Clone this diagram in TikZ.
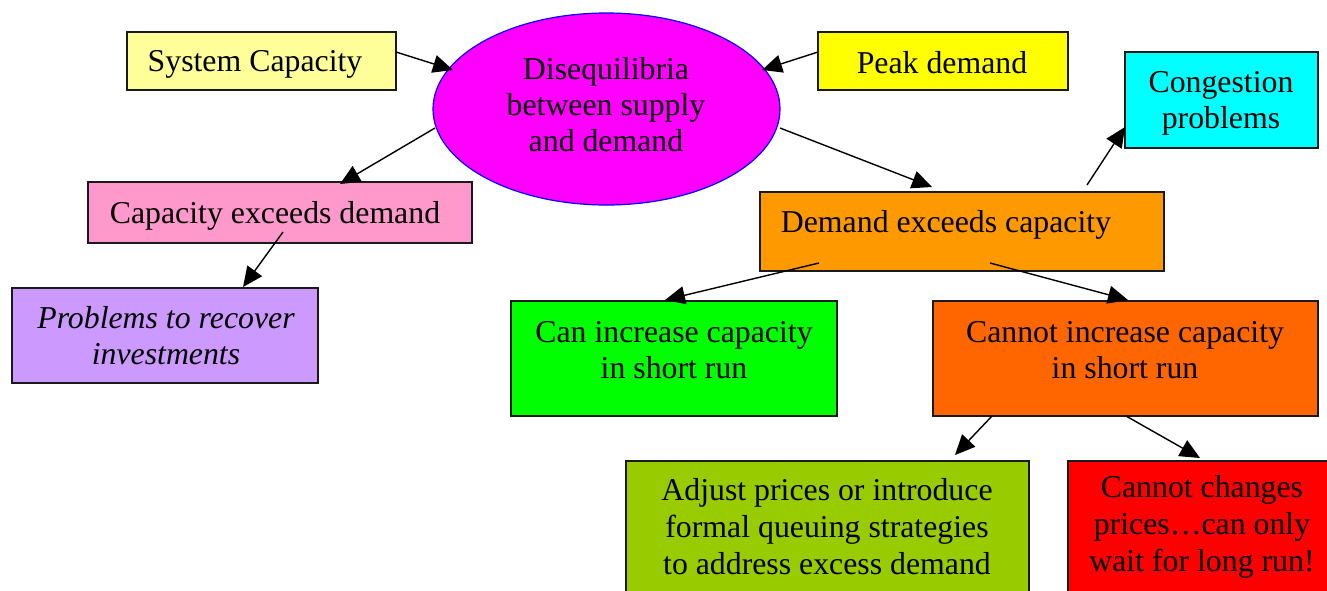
\documentclass[tikz,border=0pt]{standalone}
\usepackage{fontspec}
\setmainfont{Liberation Serif}
\usetikzlibrary{arrows.meta,shapes.geometric}
\definecolor{cSys}{HTML}{FFFF99}
\definecolor{cEll}{HTML}{FF00FF}
\definecolor{cPeak}{HTML}{FFFF00}
\definecolor{cCong}{HTML}{00FFFF}
\definecolor{cCapEx}{HTML}{FF99CC}
\definecolor{cProb}{HTML}{CC99FF}
\definecolor{cDemEx}{HTML}{FF9900}
\definecolor{cCan}{HTML}{00FF00}
\definecolor{cCannot}{HTML}{FF6600}
\definecolor{cAdj}{HTML}{99CC00}
\definecolor{cRed}{HTML}{FF0000}
\definecolor{cBorder}{HTML}{1A1A1A}
\begin{document}
\begin{tikzpicture}[x=0.5pt,y=-0.5pt,
  every node/.style={font=\fontsize{15.9}{18}\selectfont, align=center, text=black},
  boxnode/.style={draw=cBorder, line width=0.75pt, rectangle, inner sep=0pt},
  txt/.style={inner sep=0pt},
  arr/.style={-{Triangle[length=10pt,width=9pt]}, line width=0.7pt, black}]
\useasboundingbox (0,0) rectangle (1327,590);
\clip (0,0) rectangle (1327,590);
% boxes
\node[boxnode, fill=cSys, minimum width=134.5pt, minimum height=29pt] (sys) at (261.5,61) {};
\node[txt] (syst) at (255,64) {System Capacity};
\node[ellipse, draw=blue, line width=0.6pt, fill=cEll, minimum width=173.5pt, minimum height=96pt, inner sep=0pt] (ell) at (606.5,109) {};
\node[txt] (ellt) at (606,105) {Disequilibria\\between supply\\and demand};
\node[boxnode, fill=cPeak, minimum width=125pt, minimum height=29pt] (peak) at (943,61) {};
\node[txt] (peakt) at (942,62.5) {Peak demand};
\node[boxnode, fill=cCong, minimum width=96.5pt, minimum height=48pt] (cong) at (1221.5,100) {};
\node[txt] (congt) at (1221,103) {Congestion\\problems};
\node[boxnode, fill=cCapEx, minimum width=192pt, minimum height=30.5pt] (capex) at (280,212.5) {};
\node[txt] (capext) at (275,215.5) {Capacity exceeds demand};
\node[boxnode, fill=cProb, minimum width=153pt, minimum height=47.5pt] (prob) at (165,335.5) {};
\node[txt] (probt) at (166,336) {\itshape Problems to recover\\\itshape investments};
\node[boxnode, fill=cDemEx, minimum width=202pt, minimum height=39.5pt] (demex) at (962,231.5) {};
\node[txt] (demext) at (946,225) {Demand exceeds capacity};
\node[boxnode, fill=cCan, minimum width=163pt, minimum height=57.5pt] (can) at (674,358.5) {};
\node[txt] (cant) at (674,350) {Can increase capacity\\in short run};
\node[boxnode, fill=cCannot, minimum width=192.5pt, minimum height=57.5pt] (cannot) at (1125.5,358.5) {};
\node[txt] (cannott) at (1125,350) {Cannot increase capacity\\in short run};
\node[boxnode, fill=cAdj, minimum width=201.5pt, minimum height=80pt] (adj) at (827.5,541) {};
\node[txt, font=\fontsize{15.9}{18.5}\selectfont] (adjt) at (827,527) {Adjust prices or introduce\\formal queuing strategies\\to address excess demand};
\node[boxnode, fill=cRed, minimum width=135pt, minimum height=80pt] (red) at (1203,541) {};
\node[txt, font=\fontsize{15.9}{18.5}\selectfont] (redt) at (1202,527) {Cannot changes\\prices\ldots can only\\wait for long run!};
% connectors
\draw[arr] ([shift={(134.5,-9)}]sys.center) -- ([shift={(-153.5,-39)}]ell.center);
\draw[arr] ([shift={(-125,-9)}]peak.center) -- ([shift={(155.5,-39)}]ell.center);
\draw[arr] ([shift={(-171.5,19)}]ell.center) -- ([shift={(60,-28.5)}]capex.center);
\draw[arr] ([shift={(173.5,19)}]ell.center) -- ([shift={(-30,-44.5)}]demex.center);
\draw[arr] ([shift={(3,19.5)}]capex.center) -- ([shift={(78,-48.5)}]prob.center);
\draw[arr] ([shift={(125,-46.5)}]demex.center) -- ([shift={(-96.5,27)}]cong.center);
\draw[arr] ([shift={(-143,31.5)}]demex.center) -- ([shift={(-9,-58.5)}]can.center);
\draw[arr] ([shift={(28,31.5)}]demex.center) -- ([shift={(2.5,-58.5)}]cannot.center);
\draw[arr] ([shift={(-133.5,57.5)}]cannot.center) -- ([shift={(127.5,-86)}]adj.center);
\draw[arr] ([shift={(0.5,57.5)}]cannot.center) -- ([shift={(-3,-83)}]red.center);
\end{tikzpicture}
\end{document}
